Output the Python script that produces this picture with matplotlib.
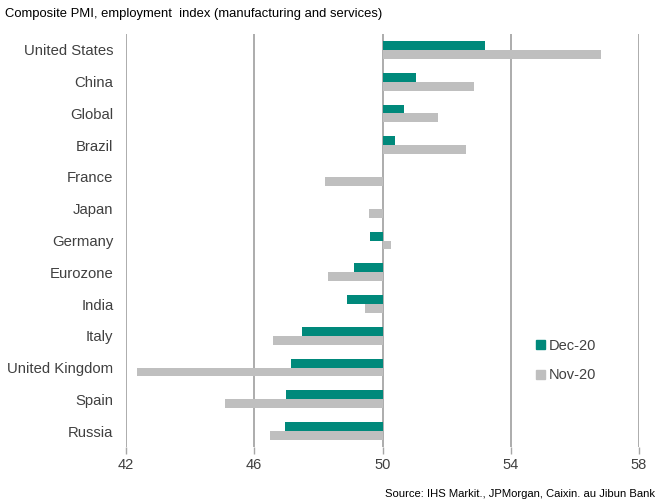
import matplotlib
matplotlib.use("Agg")
import matplotlib.pyplot as plt
import numpy as np

plt.rcParams['font.family'] = ['Liberation Sans', 'DejaVu Sans']

countries = ["United States", "China", "Global", "Brazil", "France", "Japan", "Germany",
             "Eurozone", "India", "Italy", "United Kingdom", "Spain", "Russia"]
dec20 = [53.2, 51.03, 50.67, 50.4, 50.0, 50.0, 49.6, 49.1, 48.9, 47.5, 47.15, 47.0, 46.95]
nov20 = [56.8, 52.85, 51.73, 52.6, 48.2, 49.57, 50.25, 48.3, 49.45, 46.6, 42.35, 45.1, 46.5]
xticks = [42, 46, 50, 54, 58]

teal = "#00897B"
grey = "#BFBFBF"
gridc = "#A6A6A6"
textc = "#404040"

fig = plt.figure(figsize=(6.55, 5.04), dpi=100)
ax = fig.add_axes([126/655, 1-447/504, (639-126)/655, (447-34)/504])

y = np.arange(len(countries))
h = 0.28
base = 50
ax.barh(y - h/2, np.array(dec20) - base, left=base, height=h, color=teal, label="Dec-20", zorder=3)
ax.barh(y + h/2, np.array(nov20) - base, left=base, height=h, color=grey, label="Nov-20", zorder=3)

ax.set_xlim(42, 58)
ax.set_ylim(len(countries) - 0.5, -0.5)
ax.set_xticks(xticks)
ax.set_xticklabels([str(t) for t in xticks], fontsize=10.5, color=textc)
ax.set_yticks(y)
ax.set_yticklabels(countries, fontsize=10.7, color=textc)
ax.tick_params(axis='y', length=0, pad=9)
ax.tick_params(axis='x', length=5, color=gridc, width=1, pad=3)
for s in ax.spines.values():
    s.set_visible(False)
for t in xticks:
    ax.axvline(t, color=gridc, lw=1.3, zorder=1)

handles = [plt.Rectangle((0, 0), 1, 1, color=teal), plt.Rectangle((0, 0), 1, 1, color=grey)]
fig.legend(handles, ["Dec-20", "Nov-20"], loc='upper left', bbox_to_anchor=(536/655, 1-339/504),
           frameon=False, fontsize=10.5, handlelength=0.6, handleheight=0.6, handletextpad=0.3,
           labelspacing=1.05, labelcolor=textc, borderaxespad=0, borderpad=0)

fig.text(5/655, 1-14/504, "Composite PMI, employment  index (manufacturing and services)",
         fontsize=9.4, color="#000000", va='center', ha='left')
fig.text(655/655, 1-494/504, "Source: IHS Markit., JPMorgan, Caixin. au Jibun Bank",
         fontsize=8.1, color="#000000", va='center', ha='right')

fig.savefig("out.png", dpi=100)
